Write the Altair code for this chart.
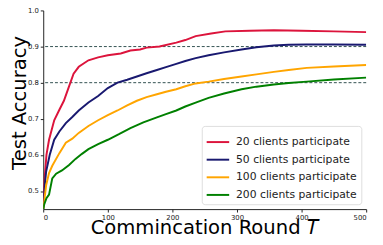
import altair as alt
import pandas as pd

series_names = ["20 clients participate", "50 clients participate",
                "100 clients participate", "200 clients participate"]
colors = ["#dc143c", "#191970", "#ffa500", "#008000"]

x20 = [0, 1.5, 5, 9, 17, 25, 32, 39, 47, 55, 70, 85, 100, 120, 135, 150, 160, 180, 206, 220, 236, 260, 282, 320, 357, 400, 450, 500]
y20 = [0.47, 0.52, 0.60, 0.642, 0.696, 0.725, 0.75, 0.785, 0.825, 0.844, 0.862, 0.870, 0.876, 0.881, 0.889, 0.892, 0.897, 0.900, 0.911, 0.918, 0.929, 0.936, 0.942, 0.944, 0.945, 0.944, 0.942, 0.940]

x50 = [0, 2, 4.5, 10, 17, 25, 35, 45, 55, 70, 85, 100, 115, 130, 145, 160, 176, 190, 206, 220, 236, 256, 280, 307, 330, 357, 380, 408, 450, 500]
y50 = [0.45, 0.51, 0.554, 0.60, 0.642, 0.665, 0.688, 0.705, 0.723, 0.745, 0.763, 0.785, 0.800, 0.808, 0.817, 0.826, 0.835, 0.843, 0.852, 0.860, 0.868, 0.876, 0.884, 0.892, 0.898, 0.903, 0.905, 0.906, 0.906, 0.905]

x100 = [0, 2, 4.5, 9, 14, 25, 35, 45, 55, 70, 85, 100, 115, 130, 145, 160, 176, 190, 206, 220, 236, 256, 280, 307, 330, 357, 380, 408, 450, 500]
y100 = [0.45, 0.48, 0.516, 0.55, 0.57, 0.605, 0.634, 0.645, 0.661, 0.680, 0.696, 0.710, 0.723, 0.737, 0.750, 0.760, 0.768, 0.775, 0.782, 0.790, 0.798, 0.803, 0.810, 0.817, 0.823, 0.830, 0.835, 0.841, 0.845, 0.849]

x200 = [0, 1.5, 5, 9, 14, 20, 29, 40, 50, 60, 70, 85, 100, 118, 135, 155, 176, 190, 206, 220, 236, 256, 280, 307, 330, 357, 380, 408, 450, 500]
y200 = [0.45, 0.463, 0.48, 0.49, 0.535, 0.548, 0.557, 0.572, 0.589, 0.603, 0.616, 0.630, 0.642, 0.658, 0.674, 0.690, 0.704, 0.713, 0.723, 0.734, 0.745, 0.758, 0.770, 0.782, 0.789, 0.795, 0.799, 0.803, 0.809, 0.814]

ref_levels = [0.9, 0.8]

rows = []
for name, xs, ys in zip(series_names, [x20, x50, x100, x200], [y20, y50, y100, y200]):
    for xv, yv in zip(xs, ys):
        rows.append({"round": xv, "acc": yv, "series": name})
df = pd.DataFrame(rows)
ref_df = pd.DataFrame({"level": ref_levels})

xscale = alt.Scale(domain=[0, 500], nice=False, zero=False)
yscale = alt.Scale(domain=[0.45, 1.0], nice=False, zero=False)

lines = alt.Chart(df).mark_line(strokeWidth=2, clip=True).encode(
    x=alt.X("round:Q", scale=xscale,
            axis=alt.Axis(title="Commincation Round 𝑇", values=[0, 100, 200, 300, 400, 500],
                          titleFontSize=20, titleFontWeight="normal", titleColor="#000",
                          labelFontSize=7, labelColor="#222", tickSize=3, grid=False,
                          domainColor="#222", tickColor="#222",
                          titleX=165, titleY=25, titleBaseline="alphabetic", titleAlign="center",
                          labelFont="DejaVu Sans", titleFont="DejaVu Sans", format="d")),
    y=alt.Y("acc:Q", scale=yscale,
            axis=alt.Axis(title="Test Accuracy", values=[0.5, 0.6, 0.7, 0.8, 0.9, 1.0],
                          titleFontSize=20, titleFontWeight="normal", titleColor="#000",
                          labelFontSize=7, labelColor="#222", tickSize=3, grid=False,
                          domainColor="#222", tickColor="#222",
                          titleX=-24, titleY=94, titleBaseline="middle", titleAlign="center",
                          labelFont="DejaVu Sans", titleFont="DejaVu Sans", format=".1f")),
    color=alt.Color("series:N", scale=alt.Scale(domain=series_names, range=colors),
                    sort=series_names,
                    legend=alt.Legend(title=None, orient="bottom-right", offset=5,
                                      symbolType="stroke", symbolSize=529, symbolStrokeWidth=2,
                                      labelFontSize=11, labelFont="DejaVu Sans", labelColor="#222",
                                      rowPadding=-9, strokeColor="#ddd", fillColor="white",
                                      cornerRadius=3, padding=4, labelLimit=300, labelOffset=6)),
    order=alt.Order("round:Q"),
)

refs = alt.Chart(ref_df).mark_rule(strokeDash=[3, 2], color="#2f4f4f", strokeWidth=1).encode(
    y=alt.Y("level:Q", scale=yscale)
)

chart = alt.layer(refs, lines).properties(
    width=330, height=203,
    autosize=alt.AutoSizeParams(type="none"),
    padding={"left": 36, "top": 0, "right": 9, "bottom": 26},
).configure_view(stroke=None).configure_axis(domainWidth=1)

chart.save("out.html", embed_options={"renderer": "svg", "actions": False})
